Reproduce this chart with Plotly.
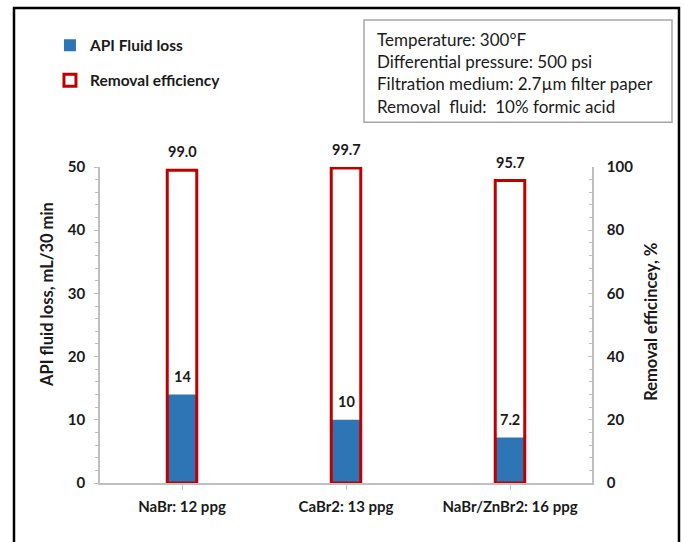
import plotly.graph_objects as go

categories = ["NaBr: 12 ppg", "CaBr2: 13 ppg", "NaBr/ZnBr2: 16 ppg"]
fluid_loss = [14, 10, 7.2]
removal_eff = [99.0, 99.7, 95.7]
fluid_loss_labels = ["14", "10", "7.2"]
removal_labels = ["99.0", "99.7", "95.7"]
left_ticks = [0, 10, 20, 30, 40, 50]
right_ticks = [0, 20, 40, 60, 80, 100]
info_lines = [
    "Temperature: 300°F",
    "Differential pressure: 500 psi",
    "Filtration medium: 2.7µm filter paper",
    "Removal&nbsp; fluid:&nbsp; 10% formic acid",
]
left_title = "API fluid loss, mL/30 min"
right_title = "Removal efficincey, %"

FONT = "Lato"
TXT = "#1a1a1a"
AX = "#bfbfbf"
BLUE = "#2E75B6"
RED = "#C00000"

fig = go.Figure()
fig.add_trace(go.Bar(
    x=categories, y=fluid_loss, name="API Fluid loss", yaxis="y",
    width=0.18, marker=dict(color=BLUE, line=dict(width=0)),
    legendgroup="a",
))
fig.add_trace(go.Bar(
    x=categories, y=removal_eff, name="Removal efficiency", yaxis="y2",
    width=0.18, marker=dict(color="rgba(0,0,0,0)", line=dict(color=RED, width=3)),
    legendgroup="b",
))

annotations = []
for c, v, t in zip(categories, fluid_loss, fluid_loss_labels):
    annotations.append(dict(x=c, y=v, xref="x", yref="y", text="<b>%s</b>" % t,
                            showarrow=False, yanchor="bottom", yshift=8,
                            font=dict(family=FONT, size=14.5, color=TXT)))
for c, v, t in zip(categories, removal_eff, removal_labels):
    annotations.append(dict(x=c, y=v, xref="x", yref="y2", text="<b>%s</b>" % t,
                            showarrow=False, yanchor="bottom", yshift=8,
                            font=dict(family=FONT, size=14.5, color=TXT)))

line_y = [1.405, 1.333, 1.263, 1.193]
for t, yy in zip(info_lines, line_y):
    annotations.append(dict(x=0.5585, y=yy, xref="paper", yref="paper", text=t,
                            showarrow=False, xanchor="left", yanchor="middle",
                            font=dict(family=FONT, size=17, color=TXT)))

titlefont = dict(family=FONT, size=16.5, color=TXT)
annotations.append(dict(x=-0.1077, y=0.595, xref="paper", yref="paper",
                        text="<b>%s</b>" % left_title, textangle=-90, showarrow=False,
                        xanchor="center", yanchor="middle", font=titlefont))
annotations.append(dict(x=1.1199, y=0.51, xref="paper", yref="paper",
                        text="<b>%s</b>" % right_title, textangle=-90, showarrow=False,
                        xanchor="center", yanchor="middle", font=titlefont))

shapes = [
    dict(type="rect", xref="paper", yref="paper", x0=-0.1748, x1=1.1768, y0=-0.4, y1=1.503,
         line=dict(color="black", width=2.5), fillcolor="rgba(0,0,0,0)", layer="below"),
    dict(type="rect", xref="paper", yref="paper", x0=0.5366, x1=1.1626, y0=1.142, y1=1.465,
         line=dict(color="#a6a6a6", width=1.5), fillcolor="rgba(0,0,0,0)"),
]

tickfont = dict(family=FONT, size=15, color=TXT, weight="bold")

fig.update_layout(
    width=684, height=542,
    margin=dict(l=100, r=92, t=167, b=59),
    paper_bgcolor="white", plot_bgcolor="white",
    barmode="overlay",
    showlegend=True,
    legend=dict(x=-0.1017, y=1.438, xanchor="left", yanchor="top",
                font=dict(family=FONT, size=15.5, color=TXT, weight="bold"),
                bgcolor="rgba(0,0,0,0)", tracegroupgap=12, traceorder="grouped",
                itemwidth=30),
    xaxis=dict(range=[-0.5, 2.5], showline=True, linecolor=AX, linewidth=1.5,
               ticks="outside", ticklen=5, tickcolor=AX, tickfont=tickfont,
               showgrid=False, zeroline=False, fixedrange=True, ticklabelstandoff=4),
    yaxis=dict(range=[0, 50], tickvals=left_ticks, showline=True, linecolor=AX, linewidth=1.5,
               ticks="outside", ticklen=4, tickcolor=AX, tickfont=tickfont,
               minor=dict(dtick=2, ticks="outside", ticklen=3, tickcolor=AX),
               showgrid=False, zeroline=False, ticklabelstandoff=6),
    yaxis2=dict(range=[0, 100], tickvals=right_ticks, overlaying="y", side="right",
                showline=True, linecolor=AX, linewidth=1.5,
                ticks="inside", ticklen=4, tickcolor=AX, tickfont=tickfont,
                minor=dict(dtick=4, ticks="inside", ticklen=3, tickcolor=AX),
                showgrid=False, zeroline=False, ticklabelstandoff=10),
    annotations=annotations,
    shapes=shapes,
)

fig.write_html("out.html")
